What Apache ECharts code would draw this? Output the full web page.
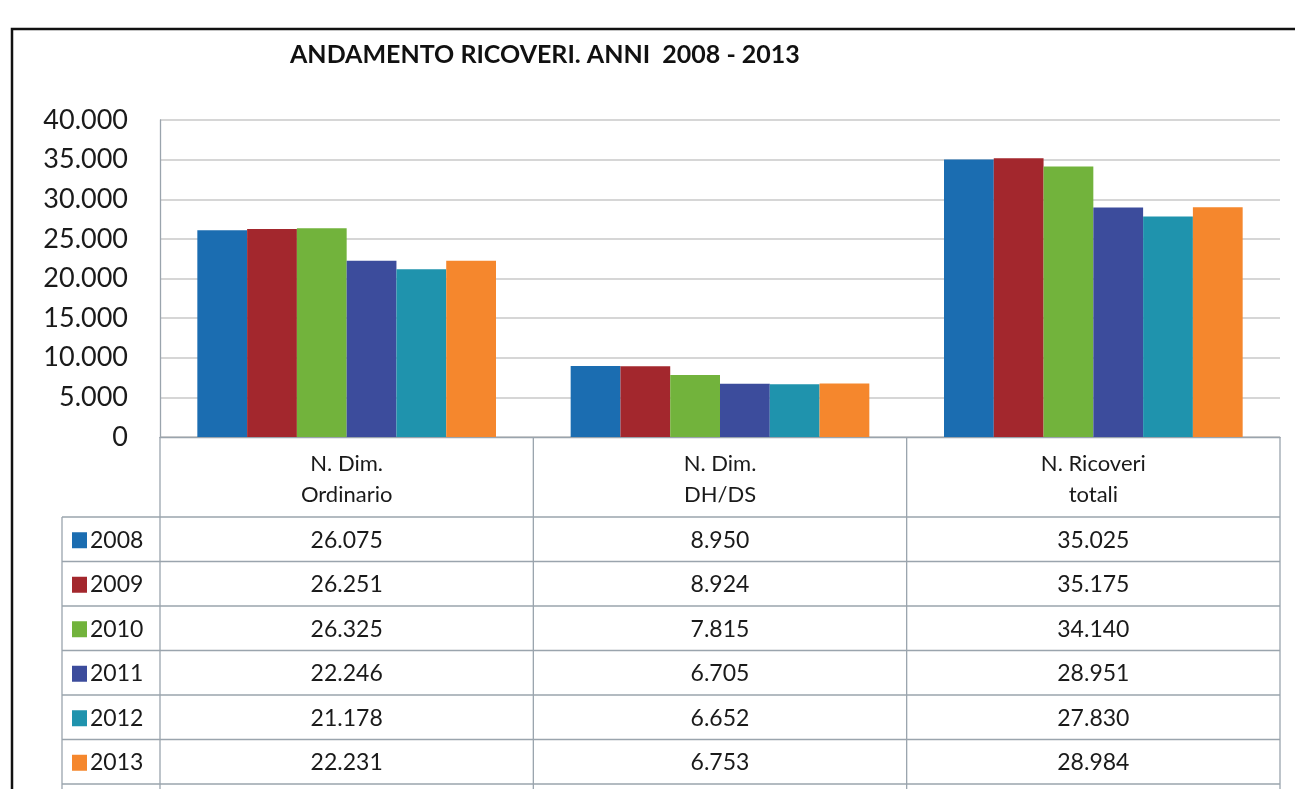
<!DOCTYPE html>
<html>
<head>
<meta charset="utf-8">
<script src="https://cdn.jsdelivr.net/npm/echarts@6/dist/echarts.min.js"></script>
<style>
html, body { margin: 0; background: #fff; }
#chart { width: 1295px; height: 789px; }
</style>
</head>
<body>
<div id="chart"></div>
<script>
// data
var categories = ['N. Dim.\nOrdinario', 'N. Dim.\nDH/DS', 'N. Ricoveri\ntotali'];
var years = ['2008', '2009', '2010', '2011', '2012', '2013'];
var v2008 = [26075, 8950, 35025];
var v2009 = [26251, 8924, 35175];
var v2010 = [26325, 7815, 34140];
var v2011 = [22246, 6705, 28951];
var v2012 = [21178, 6652, 27830];
var v2013 = [22231, 6753, 28984];
var values = [v2008, v2009, v2010, v2011, v2012, v2013];
var colors = ['#1b6db1', '#a3272d', '#72b33c', '#3c4c9c', '#1f93ad', '#f5872d'];

var font = 'Lato';
var gridLeft = 160, gridRight = 1280, gridTop = 120, gridBottom = 437;
var tableTop = 517, rowH = 44.5, legendLeft = 62;

function fmt (n) {
  return String(n).replace(/\B(?=(\d{3})+(?!\d))/g, '.');
}

var chart = echarts.init(document.getElementById('chart'));

var series = years.map(function (y, i) {
  return {
    name: y,
    type: 'bar',
    data: values[i],
    barGap: '0%',
    barCategoryGap: '20%',
    itemStyle: { color: colors[i] }
  };
});

// data table drawn below the axis
var graphics = [];
graphics.push({
  type: 'rect',
  shape: { x: 12, y: 29, width: 1300, height: 800 },
  style: { fill: null, stroke: '#111', lineWidth: 2.5 }
});
var bandW = (gridRight - gridLeft) / categories.length;
var lineStyle = { stroke: '#9aa4ad', lineWidth: 1.3 };
for (var c = 0; c <= categories.length; c++) {
  var x = gridLeft + c * bandW;
  graphics.push({ type: 'line', shape: { x1: x, y1: gridBottom, x2: x, y2: 789 }, style: lineStyle });
}
graphics.push({ type: 'line', shape: { x1: legendLeft, y1: tableTop, x2: legendLeft, y2: 789 }, style: lineStyle });
for (var r = 0; r <= years.length; r++) {
  var yy = tableTop + r * rowH;
  graphics.push({ type: 'line', shape: { x1: legendLeft, y1: yy, x2: gridRight, y2: yy }, style: lineStyle });
}
years.forEach(function (y, i) {
  var cy = tableTop + i * rowH + rowH / 2 + 1;
  graphics.push({ type: 'rect', shape: { x: 72, y: cy - 8, width: 15, height: 16 }, style: { fill: colors[i] } });
  graphics.push({
    type: 'text', x: 90, y: cy,
    style: { text: y, fill: '#1a1a1a', font: '23px ' + font, verticalAlign: 'middle' }
  });
  values[i].forEach(function (v, c) {
    graphics.push({
      type: 'text', x: gridLeft + (c + 0.5) * bandW, y: cy,
      style: { text: fmt(v), fill: '#1a1a1a', font: '23px ' + font, align: 'center', verticalAlign: 'middle' }
    });
  });
});

chart.setOption({
  animation: false,
  backgroundColor: '#fff',
  title: {
    text: 'ANDAMENTO RICOVERI. ANNI  2008 - 2013',
    left: 285,
    top: 37,
    textStyle: { fontFamily: font, fontWeight: 'bold', fontSize: 25, color: '#111' }
  },
  grid: {
    left: gridLeft,
    right: 1295 - gridRight,
    top: gridTop,
    bottom: 789 - gridBottom
  },
  xAxis: {
    type: 'category',
    data: categories,
    axisLine: { show: true, lineStyle: { color: '#9aa4ad', width: 1.3 } },
    axisTick: { show: false },
    axisLabel: {
      color: '#1a1a1a',
      fontFamily: font,
      fontSize: 22,
      lineHeight: 31,
      margin: 11
    }
  },
  yAxis: {
    type: 'value',
    min: 0,
    max: 40000,
    interval: 5000,
    axisLine: { show: true, lineStyle: { color: '#9aa4ad', width: 1.3 } },
    axisTick: { show: false },
    splitLine: { lineStyle: { color: '#c8c8c8', width: 1.6 } },
    axisLabel: {
      color: '#1a1a1a',
      fontFamily: font,
      fontSize: 27,
      margin: 32,
      formatter: function (v) { return fmt(v); }
    }
  },
  series: series,
  graphic: graphics
});
</script>
</body>
</html>
